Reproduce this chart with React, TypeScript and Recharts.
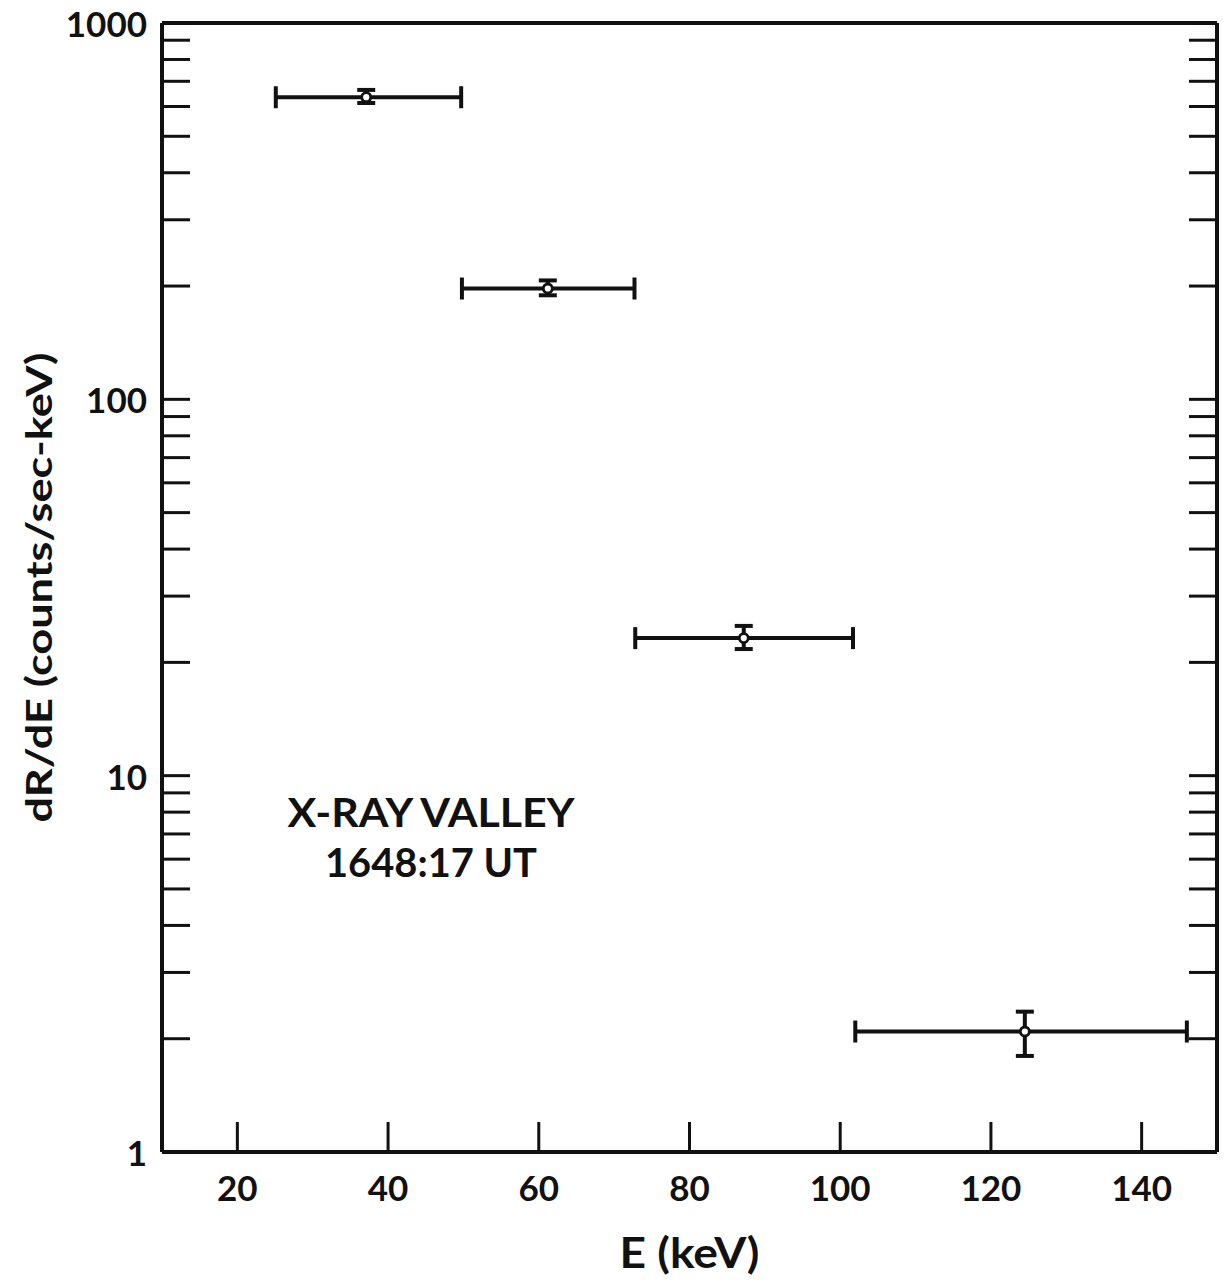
import React from "react";
import {
  ScatterChart,
  Scatter,
  XAxis,
  YAxis,
  ErrorBar,
  ReferenceDot,
} from "recharts";

// Energy bins (keV)
const energyCenter = [37.1, 61.2, 87.2, 124.5];
const energyLow = [25.1, 49.8, 72.8, 102.0];
const energyHigh = [49.7, 72.7, 101.7, 146.0];
// dR/dE (counts/sec-keV)
const rate = [635, 197, 23.2, 2.09];
const rateLow = [613, 189, 21.7, 1.8];
const rateHigh = [664, 207, 25.0, 2.36];

const xTicks = [20, 40, 60, 80, 100, 120, 140];
const yTicks = [
  1, 2, 3, 4, 5, 6, 7, 8, 9,
  10, 20, 30, 40, 50, 60, 70, 80, 90,
  100, 200, 300, 400, 500, 600, 700, 800, 900,
  1000,
];
const yLabeled = [1, 10, 100, 1000];

const annotationLines = ["X-RAY VALLEY", "1648:17 UT"];
const annotationAnchor = { x: 45.7, y: 7.3 };

const data = energyCenter.map((e, i) => ({
  e,
  r: rate[i],
  eErr: [e - energyLow[i], energyHigh[i] - e],
  rErr: [rate[i] - rateLow[i], rateHigh[i] - rate[i]],
}));

const FONT = "Lato, 'DejaVu Sans', sans-serif";
const INK = "#111";

const LeftTick = (props: any) => {
  const { x, y, payload } = props;
  const v = payload.value;
  return (
    <g>
      <line x1={x} x2={x + 28} y1={y} y2={y} stroke={INK} strokeWidth={3} />
      {yLabeled.includes(v) && (
        <text
          x={x - 15}
          y={y}
          textAnchor="end"
          dominantBaseline="central"
          fontFamily={FONT}
          fontWeight="bold"
          fontSize={35}
          fill={INK}
        >
          {v}
        </text>
      )}
    </g>
  );
};

const RightTick = (props: any) => {
  const { x, y } = props;
  return <line x1={x} x2={x - 28} y1={y} y2={y} stroke={INK} strokeWidth={3} />;
};

const BottomTick = (props: any) => {
  const { x, y, payload } = props;
  return (
    <g>
      <line x1={x} x2={x} y1={y} y2={y - 30} stroke={INK} strokeWidth={3} />
      <text
        x={x}
        y={y + 49}
        textAnchor="middle"
        fontFamily={FONT}
        fontWeight="bold"
        fontSize={35}
        fill={INK}
      >
        {payload.value}
      </text>
    </g>
  );
};

const TopTick = (props: any) => {
  const { x, y } = props;
  return <line x1={x} x2={x} y1={y} y2={y + 29} stroke={INK} strokeWidth={3} />;
};

const XLabel = (props: any) => {
  const vb = props.viewBox || {};
  return (
    <text
      x={vb.x + vb.width / 2}
      y={vb.y + 116}
      textAnchor="middle"
      fontFamily={FONT}
      fontWeight="bold"
      fontSize={42}
      fill={INK}
      textLength={140}
      lengthAdjust="spacingAndGlyphs"
    >
      E (keV)
    </text>
  );
};

const YLabel = (props: any) => {
  const vb = props.viewBox || {};
  const cx = vb.x + 52;
  const cy = vb.y + vb.height / 2;
  return (
    <text
      x={cx}
      y={cy}
      transform={`rotate(-90 ${cx} ${cy})`}
      textAnchor="middle"
      fontFamily={FONT}
      fontWeight="bold"
      fontSize={36}
      fill={INK}
      textLength={470}
      lengthAdjust="spacingAndGlyphs"
    >
      dR/dE (counts/sec-keV)
    </text>
  );
};

const Marker = (props: any) => {
  const { cx, cy } = props;
  return <circle cx={cx} cy={cy} r={4.5} fill="#fff" stroke={INK} strokeWidth={2.8} />;
};

const Annotation = (props: any) => {
  const { cx, cy } = props;
  return (
    <g>
      <text
        x={cx}
        y={cy}
        textAnchor="middle"
        fontFamily={FONT}
        fontWeight="bold"
        fontSize={41}
        fill={INK}
        textLength={287}
        lengthAdjust="spacingAndGlyphs"
      >
        {annotationLines[0]}
      </text>
      <text
        x={cx}
        y={cy + 50}
        textAnchor="middle"
        fontFamily={FONT}
        fontWeight="bold"
        fontSize={41}
        fill={INK}
        textLength={212}
        lengthAdjust="spacingAndGlyphs"
      >
        {annotationLines[1]}
      </text>
    </g>
  );
};

export default function App() {
  return (
    <div style={{ position: "absolute", left: 0, top: 0, background: "#fff" }}>
      <ScatterChart
        width={1227}
        height={1280}
        margin={{ top: 0, right: 0, bottom: 0, left: 0 }}
      >
        <XAxis
          xAxisId="bottom"
          dataKey="e"
          type="number"
          domain={[10, 150]}
          ticks={xTicks}
          interval={0}
          allowDataOverflow
          height={128}
          tickSize={0}
          tickMargin={0}
          tickLine={false}
          axisLine={{ stroke: INK, strokeWidth: 4 }}
          tick={<BottomTick />}
          label={<XLabel />}
        />
        <XAxis
          xAxisId="top"
          orientation="top"
          type="number"
          domain={[10, 150]}
          ticks={xTicks}
          interval={0}
          allowDataOverflow
          height={23}
          tickSize={0}
          tickMargin={0}
          tickLine={false}
          axisLine={{ stroke: INK, strokeWidth: 4 }}
          tick={<TopTick />}
        />
        <YAxis
          yAxisId="left"
          dataKey="r"
          type="number"
          scale="log"
          domain={[1, 1000]}
          ticks={yTicks}
          interval={0}
          allowDataOverflow
          width={162}
          tickSize={0}
          tickMargin={0}
          tickLine={false}
          axisLine={{ stroke: INK, strokeWidth: 4 }}
          tick={<LeftTick />}
          label={<YLabel />}
        />
        <YAxis
          yAxisId="right"
          orientation="right"
          type="number"
          scale="log"
          domain={[1, 1000]}
          ticks={yTicks}
          interval={0}
          allowDataOverflow
          width={10}
          tickSize={0}
          tickMargin={0}
          tickLine={false}
          axisLine={{ stroke: INK, strokeWidth: 4 }}
          tick={<RightTick />}
        />
        <Scatter
          data={data}
          xAxisId="bottom"
          yAxisId="left"
          isAnimationActive={false}
          shape={<Marker />}
        >
          <ErrorBar
            dataKey="eErr"
            direction="x"
            width={11}
            stroke={INK}
            strokeWidth={4}
            isAnimationActive={false}
          />
          <ErrorBar
            dataKey="rErr"
            direction="y"
            width={9}
            stroke={INK}
            strokeWidth={4}
            isAnimationActive={false}
          />
        </Scatter>
        <ReferenceDot
          xAxisId="bottom"
          yAxisId="left"
          x={annotationAnchor.x}
          y={annotationAnchor.y}
          r={0}
          shape={<Annotation />}
          ifOverflow="visible"
        />
      </ScatterChart>
    </div>
  );
}
